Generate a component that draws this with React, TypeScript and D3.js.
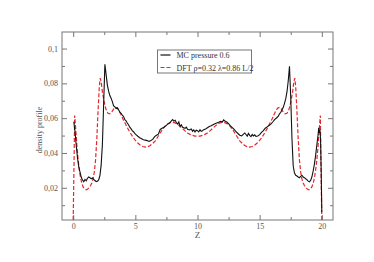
import { useEffect, useRef } from "react";
import * as d3 from "d3";

// MC simulation profile (black, noisy)
const mcZ = [
  0.05, 0.15, 0.25, 0.35, 0.45, 0.55, 0.65, 0.75, 0.85, 0.95, 1.05, 1.15, 1.25, 1.35, 1.45, 1.55, 1.65, 1.75, 1.85, 1.95,
  2.05, 2.15, 2.25, 2.35, 2.45, 2.55, 2.65, 2.75, 2.85, 2.95, 3.05, 3.15, 3.25, 3.35, 3.45, 3.55, 3.65, 3.75, 3.85, 3.95,
  4.05, 4.15, 4.25, 4.35, 4.45, 4.55, 4.65, 4.75, 4.85, 4.95, 5.05, 5.2, 5.35, 5.5, 5.65, 5.8, 5.95, 6.1, 6.25, 6.4,
  6.55, 6.7, 6.85, 7.0, 7.15, 7.3, 7.45, 7.6, 7.75, 7.9, 8.0, 8.1, 8.2, 8.3, 8.4, 8.5, 8.6, 8.7, 8.8, 8.9,
  9.0, 9.1, 9.2, 9.35, 9.5, 9.6, 9.7, 9.8, 9.9, 10.0, 10.1, 10.2, 10.3, 10.4, 10.5, 10.65, 10.8, 10.95, 11.1, 11.25,
  11.4, 11.55, 11.7, 11.85, 12.0, 12.1, 12.2, 12.35, 12.5, 12.65, 12.8, 12.95, 13.1, 13.25, 13.4, 13.55, 13.7, 13.8, 13.9, 14.0,
  14.1, 14.2, 14.3, 14.4, 14.5, 14.6, 14.7, 14.85, 15.0, 15.15, 15.3, 15.45, 15.6, 15.75, 15.9, 16.05, 16.2, 16.35, 16.5, 16.6,
  16.7, 16.8, 16.9, 17.0, 17.1, 17.2, 17.3, 17.4, 17.5, 17.6, 17.7, 17.8, 17.9, 18.0, 18.1, 18.2, 18.3, 18.4, 18.5, 18.6,
  18.7, 18.8, 18.9, 19.0, 19.1, 19.2, 19.3, 19.4, 19.5, 19.6, 19.7, 19.75, 19.8, 19.85, 19.9, 19.95, 20.0,
];
const mcRho = [
  0.058, 0.052, 0.044, 0.037, 0.032, 0.029, 0.026, 0.0245, 0.0235, 0.0248, 0.024, 0.0255, 0.0262, 0.0258, 0.0252, 0.0256, 0.0248, 0.0242, 0.0236, 0.0238,
  0.0245, 0.027, 0.033, 0.045, 0.068, 0.091, 0.085, 0.079, 0.0755, 0.073, 0.0715, 0.0695, 0.067, 0.0665, 0.0655, 0.066, 0.0648, 0.0635, 0.0628, 0.0618,
  0.061, 0.0592, 0.0585, 0.0572, 0.0562, 0.0548, 0.054, 0.0528, 0.0522, 0.0513, 0.0505, 0.0496, 0.0488, 0.0482, 0.0476, 0.0474, 0.0471, 0.0466, 0.0472, 0.0478,
  0.0494, 0.0502, 0.0508, 0.0535, 0.0542, 0.0548, 0.0556, 0.0566, 0.0572, 0.0585, 0.0592, 0.0583, 0.0588, 0.0575, 0.0566, 0.0578, 0.0552, 0.0562, 0.0548, 0.0545,
  0.0541, 0.0548, 0.0536, 0.0532, 0.0538, 0.0525, 0.0533, 0.0521, 0.0531, 0.0528, 0.0521, 0.0533, 0.0524, 0.0528, 0.0534, 0.0538, 0.0545, 0.0552, 0.0556, 0.0562,
  0.0568, 0.0572, 0.0576, 0.0582, 0.0578, 0.059, 0.0584, 0.0578, 0.0568, 0.0556, 0.0546, 0.0535, 0.0522, 0.0512, 0.0502, 0.0498, 0.0508, 0.0515, 0.0506, 0.0497,
  0.0512, 0.0501, 0.0494, 0.0506, 0.0498, 0.0504, 0.0495, 0.0498, 0.0505, 0.0518, 0.0528, 0.0542, 0.055, 0.0558, 0.0566, 0.0578, 0.0592, 0.0601, 0.0612, 0.0625,
  0.0634, 0.0648, 0.0662, 0.0685, 0.0712, 0.0752, 0.0815, 0.0898, 0.072, 0.048, 0.0325, 0.0285, 0.0272, 0.0268, 0.0262, 0.0258, 0.0266, 0.0272, 0.0262, 0.0258,
  0.0252, 0.0247, 0.0238, 0.0234, 0.0242, 0.0262, 0.0295, 0.0335, 0.0385, 0.0445, 0.0505, 0.0545, 0.0515, 0.0535, 0.0475, 0.03, 0.006,
];

// DFT profile (red dashed)
const dftZ = [
  0.0, 0.06, 0.12, 0.2, 0.3, 0.4, 0.5, 0.6, 0.7, 0.8, 0.9, 1.0, 1.1, 1.2, 1.3, 1.4, 1.5, 1.6, 1.7, 1.8,
  1.9, 2.0, 2.1, 2.17, 2.25, 2.35, 2.5, 2.65, 2.8, 2.95, 3.1, 3.25, 3.4, 3.55, 3.7, 3.85, 4.0, 4.2, 4.4, 4.6,
  4.8, 5.0, 5.2, 5.4, 5.6, 5.8, 6.0, 6.2, 6.4, 6.6, 6.8, 7.0, 7.2, 7.4, 7.6, 7.8, 8.0, 8.2, 8.4, 8.6,
  8.8, 9.0, 9.2, 9.4, 9.6, 9.8, 10.0, 10.2, 10.4, 10.6, 10.8, 11.0, 11.2, 11.4, 11.6, 11.8, 12.0, 12.2, 12.4, 12.6,
  12.8, 13.0, 13.2, 13.4, 13.6, 13.8, 14.0, 14.2, 14.4, 14.6, 14.8, 15.0, 15.2, 15.4, 15.6, 15.8, 16.0, 16.15, 16.3, 16.45,
  16.6, 16.75, 16.9, 17.05, 17.2, 17.35, 17.5, 17.65, 17.75, 17.83, 17.9, 18.0, 18.1, 18.2, 18.3, 18.4, 18.5, 18.6, 18.7, 18.8,
  18.9, 19.0, 19.1, 19.2, 19.3, 19.4, 19.5, 19.6, 19.7, 19.8, 19.88, 19.94, 20.0,
];
const dftRho = [
  0.0015, 0.03, 0.0615, 0.054, 0.044, 0.036, 0.03, 0.0255, 0.0225, 0.0205, 0.0195, 0.019, 0.019, 0.0195, 0.0203, 0.0213, 0.0228, 0.025, 0.029, 0.036,
  0.048, 0.064, 0.078, 0.083, 0.081, 0.075, 0.069, 0.0648, 0.0628, 0.0625, 0.0635, 0.0652, 0.0662, 0.0658, 0.0642, 0.062, 0.0595, 0.0568, 0.054, 0.0515,
  0.0492, 0.0472, 0.0457, 0.0445, 0.0437, 0.0434, 0.0436, 0.0443, 0.0455, 0.047, 0.0492, 0.0515, 0.0537, 0.0555, 0.0567, 0.0574, 0.0576, 0.0573, 0.0565, 0.0553,
  0.054, 0.0527, 0.0515, 0.0507, 0.0501, 0.0497, 0.0496, 0.0497, 0.0501, 0.0507, 0.0515, 0.0527, 0.054, 0.0553, 0.0565, 0.0573, 0.0576, 0.0574, 0.0567, 0.0555,
  0.0537, 0.0515, 0.0492, 0.047, 0.0455, 0.0443, 0.0436, 0.0434, 0.0437, 0.0445, 0.0457, 0.0472, 0.0492, 0.0515, 0.054, 0.0568, 0.0595, 0.062, 0.0642, 0.0658,
  0.0662, 0.0652, 0.0635, 0.0625, 0.0628, 0.0648, 0.069, 0.075, 0.081, 0.083, 0.078, 0.064, 0.048, 0.036, 0.029, 0.025, 0.0228, 0.0213, 0.0203, 0.0195,
  0.019, 0.019, 0.0195, 0.0205, 0.0225, 0.0255, 0.03, 0.036, 0.044, 0.054, 0.0615, 0.03, 0.0015,
];

const xTicks = [0, 5, 10, 15, 20];
const xMinor = [2.5, 7.5, 12.5, 17.5];
const yTicks = [0.02, 0.04, 0.06, 0.08, 0.1];
const yMinor = [0.01, 0.03, 0.05, 0.07, 0.09];
const legendLabels = ["MC pressure 0.6", "DFT ρ=0.32 λ=0.86 L/2"];

function App() {
  const svgRef = useRef<SVGSVGElement>(null);

  useEffect(() => {
    const svgElement = svgRef.current;
    if (!svgElement) return;

    const margin = { top: 32, right: 41, bottom: 42, left: 62 };
    const width = 374 - margin.left - margin.right;
    const height = 262 - margin.top - margin.bottom;
    const axisColor = "#777";
    const textColor = "#555";
    const font = "'Liberation Serif', 'DejaVu Serif', serif";

    const svg = d3.select(svgElement);
    const g = svg.append("g").attr("transform", `translate(${margin.left},${margin.top})`);

    const x = d3.scaleLinear().domain([-0.9, 20.9]).range([0, width]);
    const y = d3.scaleLinear().domain([0.0015, 0.1095]).range([height, 0]);

    const fmt = (v: number) => String(+v.toFixed(2)).replace(".", ",");

    // axes with inward ticks
    const styleAxis = (sel: d3.Selection<SVGGElement, unknown, null, undefined>) => {
      sel.select(".domain").remove();
      sel.selectAll("line").attr("stroke", axisColor);
      sel.selectAll("text").attr("fill", textColor).style("font-family", font).style("font-size", "8px");
    };

    g.append("g").attr("transform", `translate(0,${height})`)
      .call(d3.axisBottom(x).tickValues(xTicks).tickSize(-5).tickPadding(3).tickFormat((d) => String(d)))
      .call(styleAxis);
    g.append("g").attr("transform", `translate(0,${height})`)
      .call(d3.axisBottom(x).tickValues(xMinor).tickSize(-3).tickFormat(() => ""))
      .call(styleAxis);
    g.append("g")
      .call(d3.axisTop(x).tickValues(xTicks).tickSize(-5).tickFormat(() => ""))
      .call(styleAxis);
    g.append("g")
      .call(d3.axisTop(x).tickValues(xMinor).tickSize(-3).tickFormat(() => ""))
      .call(styleAxis);
    g.append("g")
      .call(d3.axisLeft(y).tickValues(yTicks).tickSize(-5).tickPadding(4).tickFormat((d) => fmt(+d)))
      .call(styleAxis);
    g.append("g")
      .call(d3.axisLeft(y).tickValues(yMinor).tickSize(-3).tickFormat(() => ""))
      .call(styleAxis);
    g.append("g").attr("transform", `translate(${width},0)`)
      .call(d3.axisRight(y).tickValues(yTicks).tickSize(-5).tickFormat(() => ""))
      .call(styleAxis);
    g.append("g").attr("transform", `translate(${width},0)`)
      .call(d3.axisRight(y).tickValues(yMinor).tickSize(-3).tickFormat(() => ""))
      .call(styleAxis);

    // frame
    g.append("rect")
      .attr("width", width).attr("height", height)
      .attr("fill", "none").attr("stroke", axisColor).attr("stroke-width", 1);

    const line = d3.line<[number, number]>().x((d) => x(d[0])).y((d) => y(d[1]));
    const mc: [number, number][] = mcZ.map((z, i) => [z, mcRho[i]]);
    const dft: [number, number][] = dftZ.map((z, i) => [z, dftRho[i]]);

    g.append("path").datum(dft).attr("d", line)
      .attr("fill", "none").attr("stroke", "#e8262a").attr("stroke-width", 1.2)
      .attr("stroke-dasharray", "4,2");
    g.append("path").datum(mc).attr("d", line)
      .attr("fill", "none").attr("stroke", "#111").attr("stroke-width", 1.1);

    // axis titles
    g.append("text")
      .attr("x", width / 2).attr("y", height + 18)
      .attr("text-anchor", "middle")
      .style("font-family", font).style("font-size", "9px").attr("fill", textColor)
      .text("Z");
    g.append("text")
      .attr("transform", `translate(${-20},${height / 2 + 4}) rotate(-90)`)
      .attr("text-anchor", "middle")
      .style("font-family", font).style("font-size", "8px").attr("fill", textColor)
      .text("density profile");

    // legend
    const lg = g.append("g").attr("transform", `translate(${157.5 - margin.left},${50 - margin.top})`);
    lg.append("rect").attr("width", 94).attr("height", 23)
      .attr("fill", "#fff").attr("stroke", axisColor).attr("stroke-width", 1);
    const colors = ["#111", "#e8262a"];
    legendLabels.forEach((label, i) => {
      const ly = 5 + i * 12.5;
      lg.append("line")
        .attr("x1", 3).attr("x2", 13).attr("y1", ly).attr("y2", ly)
        .attr("stroke", colors[i]).attr("stroke-width", 1.2)
        .attr("stroke-dasharray", i === 1 ? "4,2" : null);
      lg.append("text")
        .attr("x", 19).attr("y", ly + 3)
        .style("font-family", font).style("font-size", "8px").attr("fill", "#333")
        .text(label);
    });

    return () => {
      d3.select(svgElement).selectAll("*").remove();
    };
  }, []);

  return (
    <svg
      ref={svgRef}
      width={374}
      height={262}
      style={{ position: "absolute", left: 0, top: 0, background: "#fff" }}
    ></svg>
  );
}

export default App;
